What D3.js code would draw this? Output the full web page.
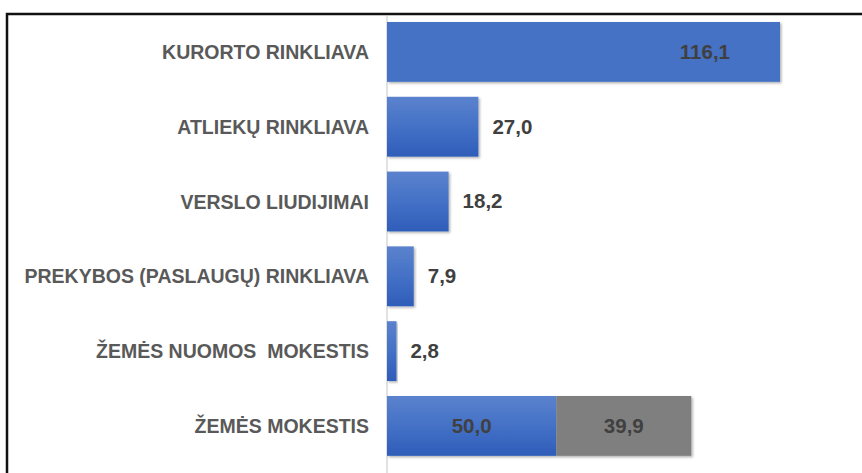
<!DOCTYPE html>
<html>
<head>
<meta charset="utf-8">
<script src="https://d3js.org/d3.v7.min.js"></script>
<style>
  body { margin: 0; background: #fff; }
  svg { display: block; font-family: "Liberation Sans", Arial, sans-serif; }
</style>
</head>
<body>
<script>
// chart data
var categories = ["KURORTO RINKLIAVA", "ATLIEKŲ RINKLIAVA", "VERSLO LIUDIJIMAI",
  "PREKYBOS (PASLAUGŲ) RINKLIAVA", "ŽEMĖS NUOMOS  MOKESTIS", "ŽEMĖS MOKESTIS"];
var seriesA = [116.1, 27.0, 18.2, 7.9, 2.8, 50.0];
var seriesB = [0, 0, 0, 0, 0, 39.9];

var width = 862, height = 473;
var svg = d3.select("body").append("svg")
  .attr("width", width).attr("height", height);

var defs = svg.append("defs");
var grad = defs.append("linearGradient").attr("id", "blueGrad")
  .attr("x1", 0).attr("y1", 0).attr("x2", 0).attr("y2", 1);
grad.append("stop").attr("offset", "0%").attr("stop-color", "#5b82cd");
grad.append("stop").attr("offset", "50%").attr("stop-color", "#4471c6");
grad.append("stop").attr("offset", "100%").attr("stop-color", "#2e5db9");
var sh = defs.append("filter").attr("id", "shadow")
  .attr("x", "-5%").attr("y", "-5%").attr("width", "115%").attr("height", "120%");
sh.append("feDropShadow").attr("dx", 1.5).attr("dy", 1.5).attr("stdDeviation", 1)
  .attr("flood-color", "#000").attr("flood-opacity", 0.3);

// frame
svg.append("rect")
  .attr("x", 7).attr("y", 14).attr("width", 900).attr("height", 500)
  .attr("fill", "none").attr("stroke", "#111").attr("stroke-width", 2.5);

var x = d3.scaleLinear().domain([0, 116.1]).range([387, 780]);
var y = d3.scaleBand().domain(categories).range([14.5, 463.3])
  .paddingInner(0.2).paddingOuter(0.1);

// axis line
svg.append("line")
  .attr("x1", x(0)).attr("x2", x(0)).attr("y1", 16).attr("y2", height)
  .attr("stroke", "#d9d9d9").attr("stroke-width", 1.5);

var rows = categories.map(function(c, i) { return {cat: c, a: seriesA[i], b: seriesB[i], i: i}; });

var g = svg.append("g");
g.selectAll(".barA").data(rows).enter().append("rect")
  .attr("class", "barA")
  .attr("x", x(0))
  .attr("y", function(d) { return y(d.cat); })
  .attr("width", function(d) { return x(d.a) - x(0); })
  .attr("height", y.bandwidth())
  .attr("fill", function(d) { return d.i === 0 ? "#4472c4" : "url(#blueGrad)"; })
  .attr("filter", "url(#shadow)");

g.selectAll(".barB").data(rows.filter(function(d) { return d.b > 0; })).enter().append("rect")
  .attr("class", "barB")
  .attr("x", function(d) { return x(d.a); })
  .attr("y", function(d) { return y(d.cat); })
  .attr("width", function(d) { return x(d.a + d.b) - x(d.a); })
  .attr("height", y.bandwidth())
  .attr("fill", "#7f7f7f")
  .attr("filter", "url(#shadow)");

var fmt = function(v) { return v.toFixed(1).replace(".", ","); };

// category labels
svg.selectAll(".cat").data(rows).enter().append("text")
  .attr("x", x(0) - 18)
  .attr("y", function(d) { return y(d.cat) + y.bandwidth() / 2; })
  .attr("dy", "0.36em")
  .attr("text-anchor", "end")
  .attr("font-size", 19.5).attr("font-weight", "bold")
  .attr("fill", "#595959")
  .style("white-space", "pre")
  .text(function(d) { return d.cat; });

// value labels
svg.selectAll(".val").data(rows).enter().append("text")
  .attr("x", function(d) {
    if (d.b > 0) return (x(0) + x(d.a)) / 2;
    if (d.i === 0) return x(d.a) - 50;
    return x(d.a) + 14;
  })
  .attr("y", function(d) { return y(d.cat) + y.bandwidth() / 2; })
  .attr("dy", "0.34em")
  .attr("text-anchor", function(d) {
    if (d.b > 0) return "middle";
    return d.i === 0 ? "end" : "start";
  })
  .attr("font-size", 20.5).attr("font-weight", "bold")
  .attr("fill", "#404040")
  .text(function(d) { return fmt(d.a); });

svg.selectAll(".valB").data(rows.filter(function(d) { return d.b > 0; })).enter().append("text")
  .attr("x", function(d) { return (x(d.a) + x(d.a + d.b)) / 2; })
  .attr("y", function(d) { return y(d.cat) + y.bandwidth() / 2; })
  .attr("dy", "0.34em")
  .attr("text-anchor", "middle")
  .attr("font-size", 20.5).attr("font-weight", "bold")
  .attr("fill", "#404040")
  .text(function(d) { return fmt(d.b); });
</script>
</body>
</html>
